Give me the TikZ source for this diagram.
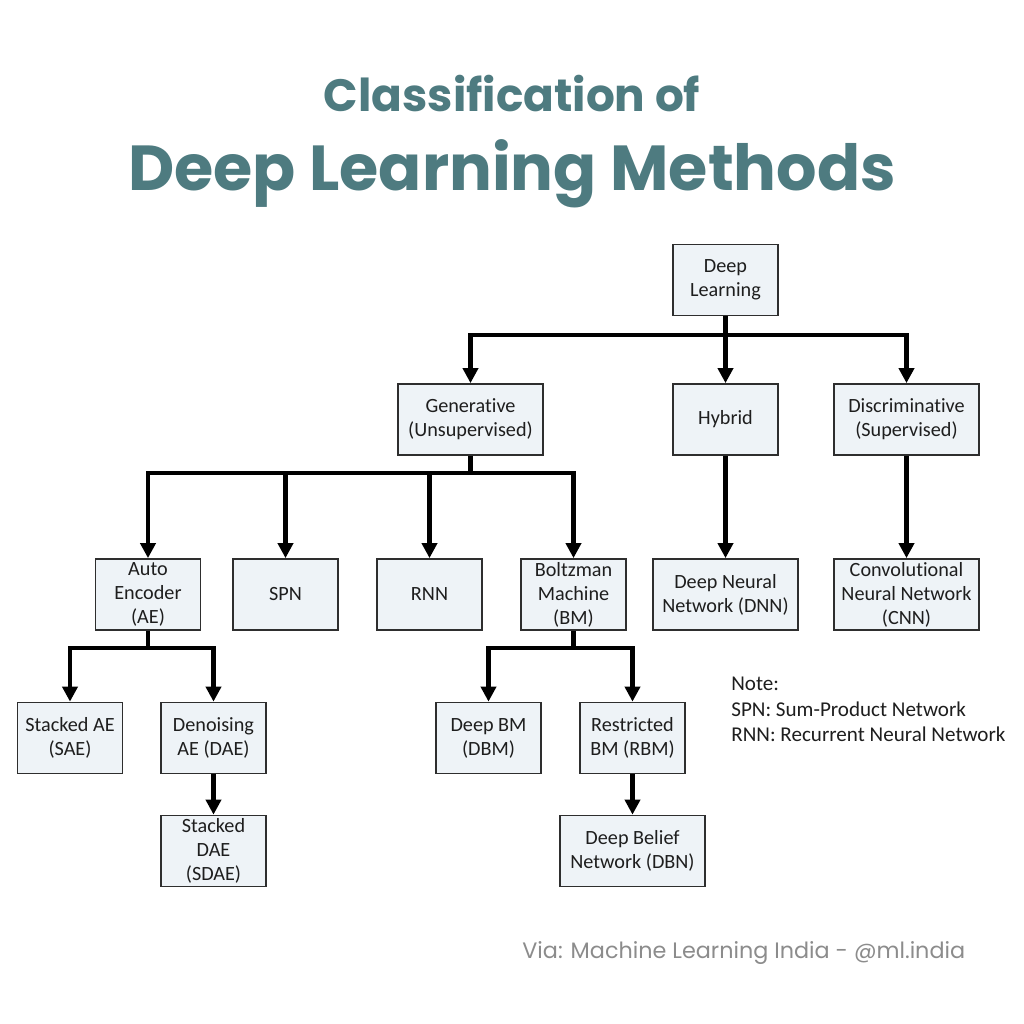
\documentclass[tikz,border=0pt]{standalone}
\usepackage{fontspec}
\usepackage{xcolor}
\usetikzlibrary{arrows.meta}
\setmainfont{Carlito}[Ligatures=NoCommon]
\newfontfamily\titlefont{Poppins}
\definecolor{titleteal}{HTML}{4E7B80}
\definecolor{boxfill}{HTML}{EEF3F7}
\definecolor{boxline}{HTML}{2E2E2E}
\definecolor{textdark}{HTML}{1E1E1E}
\definecolor{footgray}{HTML}{8C8C8C}

\begin{document}
\begin{tikzpicture}[x=0.02cm, y=-0.02cm,
    box/.style={draw=boxline, line width=1pt, fill=boxfill, align=center,
      minimum width=2.1cm, minimum height=1.42cm, inner sep=1pt,
      font=\fontsize{11.5}{13.6}\selectfont, text=textdark},
    wide/.style={box, minimum width=2.9cm},
    link/.style={line width=2.3pt, black},
    arr/.style={link, -{Triangle[width=8.5pt,length=8.5pt]}}]
                \fill[white] (0,0) rectangle (1024,1024);
                \useasboundingbox (0,0) rectangle (1024,1024);

                % title
                \node[anchor=base, text=titleteal, font=\titlefont\bfseries\fontsize{25.8}{30}\selectfont] (title1) at (512,112) {Classification of};
                \node[anchor=base, text=titleteal, font=\titlefont\bfseries\fontsize{36.2}{42}\selectfont] (title2) at (512,190) {Deep Learning Methods};

                % boxes
                \node[box] (dl) at (725.5,280) {Deep\\Learning};
                \node[wide] (gen) at (470.5,419.5) {Generative\\(Unsupervised)};
                \node[box] (hyb) at (725.5,419.5) {Hybrid};
                \node[wide] (dis) at (906.5,419.5) {Discriminative\\(Supervised)};

                \node[box] (ae) at (148,594.5) {Auto\\Encoder\\(AE)};
                \node[box] (spn) at (285.5,594.5) {SPN};
                \node[box] (rnn) at (429.5,594.5) {RNN};
                \node[box] (bm) at (573.5,594.5) {Boltzman\\Machine\\(BM)};
                \node[wide] (dnn) at (725.5,594.5) {Deep Neural\\Network (DNN)};
                \node[wide] (cnn) at (906.5,594.5) {Convolutional\\Neural Network\\(CNN)};

                \node[box] (sae) at (70,738) {Stacked AE\\(SAE)};
                \node[box] (dae) at (213.5,738) {Denoising\\AE (DAE)};
                \node[box] (sdae) at (213.5,851) {Stacked\\DAE\\(SDAE)};
                \node[box] (dbm) at (488.5,738) {Deep BM\\(DBM)};
                \node[box] (rbm) at (632.5,738) {Restricted\\BM (RBM)};
                \node[wide] (dbn) at (632.5,851) {Deep Belief\\Network (DBN)};

                % bus points
                \coordinate (dlbus) at (725.5,335);
                \coordinate (genbus) at (470.5,473);
                \coordinate (aebus) at (148,648);
                \coordinate (bmbus) at (573.5,648);

                \draw[arr] (dl) -- (hyb);
                \draw[arr] (dlbus) -| (gen);
                \draw[arr] (dlbus) -| (dis);

                \draw[link] (gen) -- (genbus);
                \foreach \n in {ae,spn,rnn,bm}
                    \draw[arr] (genbus) -| (\n);
                \draw[arr] (hyb) -- (dnn);
                \draw[arr] (dis) -- (cnn);

                \draw[link] (ae) -- (aebus);
                \draw[arr] (aebus) -| (sae);
                \draw[arr] (aebus) -| (dae);
                \draw[arr] (dae) -- (sdae);

                \draw[link] (bm) -- (bmbus);
                \draw[arr] (bmbus) -| (dbm);
                \draw[arr] (bmbus) -| (rbm);
                \draw[arr] (rbm) -- (dbn);

                % note and source
                \node[anchor=north west, align=left, inner sep=0pt, text=textdark, font=\fontsize{12}{14.5}\selectfont] (note) at (731,677) {Note:\\SPN: Sum-Product Network\\RNN: Recurrent Neural Network};
                \node[anchor=base west, inner sep=0pt, text=footgray, font=\titlefont\fontsize{12.7}{15}\selectfont] (via) at (522,958) {Via: Machine Learning India - @ml.india};
            \end{tikzpicture}
\end{document}
